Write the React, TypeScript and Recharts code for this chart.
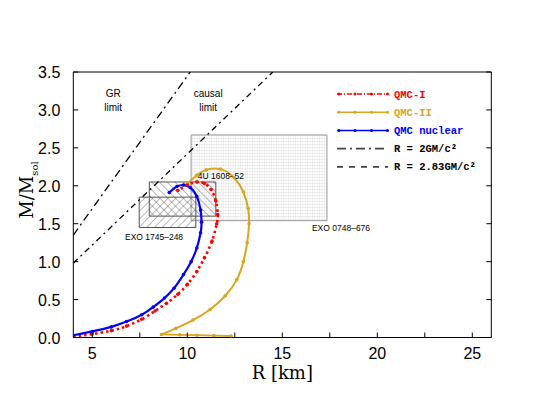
import React from "react";
import { LineChart, Line, XAxis, YAxis, ReferenceArea, ReferenceDot } from "recharts";

// mass-radius curves (R in km, M in solar masses)
const qmc1R = [4.0, 5.0, 6.0, 6.8, 7.6, 8.3, 8.9, 9.5, 10.0, 10.5, 10.9, 11.3, 11.55, 11.6, 11.5, 11.25, 10.9, 10.5, 10.0, 9.5];
const qmc1M = [0.01, 0.045, 0.09, 0.15, 0.24, 0.35, 0.45, 0.57, 0.7, 0.87, 1.05, 1.27, 1.5, 1.62, 1.8, 1.95, 2.03, 2.05, 2.01, 1.94];

const qmc2R = [12.3, 11.4, 10.5, 9.6, 8.65, 9.4, 10.3, 11.2, 12.0, 12.6, 12.95, 13.15, 13.25, 13.2, 12.95, 12.45, 11.75, 11.0, 10.5, 10.0];
const qmc2M = [0.02, 0.025, 0.03, 0.035, 0.04, 0.12, 0.23, 0.37, 0.55, 0.76, 1.0, 1.25, 1.5, 1.7, 1.92, 2.11, 2.22, 2.21, 2.14, 2.03];

const nucR = [4.0, 5.0, 6.0, 6.8, 7.6, 8.2, 8.8, 9.3, 9.8, 10.2, 10.5, 10.7, 10.75, 10.7, 10.5, 10.15, 9.8, 9.45, 9.05];
const nucM = [0.03, 0.08, 0.14, 0.21, 0.3, 0.4, 0.52, 0.65, 0.83, 1.0, 1.18, 1.38, 1.52, 1.68, 1.86, 1.98, 2.01, 1.99, 1.91];

// limit lines (end points)
const grR = [4.0, 10.15];
const grM = [1.35, 3.5];
const causalR = [4.0, 14.5];
const causalM = [0.98, 3.5];

// observational boxes: [Rmin, Rmax], [Mmin, Mmax]
const exo0748R = [10.2, 17.35];
const exo0748M = [1.54, 2.67];
const u1608R = [8.0, 11.5];
const u1608M = [1.6, 2.05];
const exo1745R = [7.47, 10.45];
const exo1745M = [1.45, 1.85];

const xTicks = [5, 7.5, 10, 12.5, 15, 17.5, 20, 22.5, 25];
const yTicks = [0, 0.25, 0.5, 0.75, 1, 1.25, 1.5, 1.75, 2, 2.25, 2.5, 2.75, 3, 3.25, 3.5];

const zip = (r: number[], m: number[]) => r.map((v, i) => ({ r: v, m: m[i] }));

const RED = "#ff0000";
const GOLD = "#daa520";
const BLUE = "#0000ff";
const tickFont = "Liberation Sans, Arial, sans-serif";

const BottomTick = ({ x, y, payload }: any) => (
  <g>
    <line x1={x} x2={x} y1={y} y2={y - 5} stroke="#000" />
    {payload.value % 5 === 0 && (
      <text x={x} y={y + 21} textAnchor="middle" fontSize={16} fontFamily={tickFont} fill="#000">
        {payload.value}
      </text>
    )}
  </g>
);

const TopTick = ({ x, y }: any) => <line x1={x} x2={x} y1={y} y2={y + 5} stroke="#000" />;

const LeftTick = ({ x, y, payload }: any) => {
  const v = payload.value;
  const major = Math.abs(v * 2 - Math.round(v * 2)) < 1e-6;
  return (
    <g>
      <line x1={x} x2={x + 5} y1={y} y2={y} stroke="#000" />
      {major && (
        <text x={x - 13} y={y + 6} textAnchor="end" fontSize={16} fontFamily={tickFont} fill="#000">
          {v.toFixed(1)}
        </text>
      )}
    </g>
  );
};

const RightTick = ({ x, y }: any) => <line x1={x} x2={x - 5} y1={y} y2={y} stroke="#000" />;

const note = (text: string, anchor: string, size: number) => (p: any) => (
  <text x={p.cx} y={p.cy} textAnchor={anchor} fontSize={size} fontFamily={tickFont} fill="#000">
    {text}
  </text>
);

const legendRows = [
  { name: "QMC-I", color: RED, dash: "5 2 1 2", dots: true },
  { name: "QMC-II", color: GOLD, dash: undefined, dots: true },
  { name: "QMC nuclear", color: BLUE, dash: undefined, dots: true },
  { name: "R = 2GM/c²", color: "#000", dash: "9 4 2 4", dots: false },
  { name: "R = 2.83GM/c²", color: "#000", dash: "6 6", dots: false },
];

const LegendBox = () => (
  <svg width={200} height={100} style={{ position: "absolute", left: 330, top: 84 }}>
    {legendRows.map((row, i) => {
      const y = 10 + i * 18.2;
      return (
        <g key={row.name}>
          <line x1={7} x2={58} y1={y} y2={y} stroke={row.dots ? row.color : "#444"} strokeWidth={row.dots ? 1.5 : 1.8} strokeDasharray={row.dash} />
          {row.dots &&
            [9, 25, 41.5, 57.5].map((cx) => <circle key={cx} cx={cx} cy={y} r={1.5} fill={row.color} />)}
          <text x={64} y={y + 3.5} fontSize={10.5} fontWeight="bold" fontFamily="Liberation Mono, DejaVu Sans Mono, monospace" fill={row.color}>
            {row.name}
          </text>
        </g>
      );
    })}
  </svg>
);

const dotStyle = (c: string) => ({ r: 1.8, fill: c, stroke: c, strokeWidth: 0 });

const App = () => {
  return (
    <div style={{ position: "absolute", left: 0, top: 0, width: 538, height: 416, background: "#fff" }}>
      <LineChart width={538} height={416} margin={{ top: 70, right: 44.7, bottom: 28.5, left: 0 }}>
        <defs>
          <pattern id="fineGrid" width="2.4" height="3" patternUnits="userSpaceOnUse">
            <path d="M0 0 V3 M0 0 H2.4" stroke="#d0d0d0" strokeWidth="0.6" fill="none" />
          </pattern>
          <pattern id="hatchBack" width="5.5" height="5.5" patternUnits="userSpaceOnUse" patternTransform="rotate(-45)">
            <line x1="0" y1="0" x2="0" y2="5.5" stroke="#555" strokeWidth="0.8" />
          </pattern>
          <pattern id="hatchFwd" width="5.5" height="5.5" patternUnits="userSpaceOnUse" patternTransform="rotate(45)">
            <line x1="0" y1="0" x2="0" y2="5.5" stroke="#555" strokeWidth="0.8" />
          </pattern>
        </defs>

        <XAxis
          xAxisId="b"
          type="number"
          dataKey="r"
          domain={[4, 26]}
          ticks={xTicks}
          allowDataOverflow
          height={50}
          tickSize={0}
          tickMargin={0}
          tickLine={false}
          axisLine={{ stroke: "#000" }}
          tick={<BottomTick />}
          label={{ value: "R  [km]", position: "insideBottom", offset: 9, fontSize: 18, fontFamily: "DejaVu Serif, serif", fill: "#000" }}
        />
        <XAxis
          xAxisId="t"
          orientation="top"
          type="number"
          domain={[4, 26]}
          ticks={xTicks}
          allowDataOverflow
          height={2}
          tickSize={0}
          tickMargin={0}
          tickLine={false}
          axisLine={{ stroke: "#000" }}
          tick={<TopTick />}
        />
        <YAxis
          yAxisId="l"
          type="number"
          dataKey="m"
          domain={[0, 3.5]}
          ticks={yTicks}
          allowDataOverflow
          width={73.3}
          tickSize={0}
          tickMargin={0}
          tickLine={false}
          axisLine={{ stroke: "#000" }}
          tick={<LeftTick />}
          label={{
            content: () => (
              <text transform="translate(33,190) rotate(-90)" textAnchor="middle" fontSize={18} fontFamily="DejaVu Serif, serif" fill="#000">
                M/M
                <tspan fontSize={10} dy={5}>sol</tspan>
              </text>
            ),
          }}
        />
        <YAxis
          yAxisId="r"
          orientation="right"
          type="number"
          domain={[0, 3.5]}
          ticks={yTicks}
          allowDataOverflow
          width={2}
          tickSize={0}
          tickMargin={0}
          tickLine={false}
          axisLine={{ stroke: "#000" }}
          tick={<RightTick />}
        />

        <ReferenceArea xAxisId="b" yAxisId="l" x1={exo0748R[0]} x2={exo0748R[1]} y1={exo0748M[0]} y2={exo0748M[1]} fill="url(#fineGrid)" fillOpacity={1} stroke="#999" strokeWidth={1} />
        <ReferenceArea xAxisId="b" yAxisId="l" x1={u1608R[0]} x2={u1608R[1]} y1={u1608M[0]} y2={u1608M[1]} fill="url(#hatchBack)" fillOpacity={1} stroke="#555" strokeWidth={1} />
        <ReferenceArea xAxisId="b" yAxisId="l" x1={exo1745R[0]} x2={exo1745R[1]} y1={exo1745M[0]} y2={exo1745M[1]} fill="url(#hatchFwd)" fillOpacity={1} stroke="#555" strokeWidth={1} />

        <ReferenceDot xAxisId="b" yAxisId="l" x={6.1} y={3.17} r={0} shape={note("GR", "middle", 10)} />
        <ReferenceDot xAxisId="b" yAxisId="l" x={6.1} y={2.98} r={0} shape={note("limit", "middle", 10)} />
        <ReferenceDot xAxisId="b" yAxisId="l" x={11.1} y={3.17} r={0} shape={note("causal", "middle", 10)} />
        <ReferenceDot xAxisId="b" yAxisId="l" x={11.1} y={2.98} r={0} shape={note("limit", "middle", 10)} />
        <ReferenceDot xAxisId="b" yAxisId="l" x={10.55} y={2.09} r={0} shape={note("4U 1608\u201352", "start", 8.5)} />
        <ReferenceDot xAxisId="b" yAxisId="l" x={6.72} y={1.29} r={0} shape={note("EXO 1745\u2013248", "start", 8.5)} />
        <ReferenceDot xAxisId="b" yAxisId="l" x={16.56} y={1.4} r={0} shape={note("EXO 0748\u2013676", "start", 8.5)} />

        <Line xAxisId="b" yAxisId="l" data={zip(grR, grM)} dataKey="m" type="linear" stroke="#000" strokeWidth={1.3} strokeDasharray="8 4 2 4" dot={false} isAnimationActive={false} />
        <Line xAxisId="b" yAxisId="l" data={zip(causalR, causalM)} dataKey="m" type="linear" stroke="#000" strokeWidth={1.3} strokeDasharray="6 4 2 4" dot={false} isAnimationActive={false} />

        {/* QMC-II: flat low-mass tail, then the main branch */}
        <Line xAxisId="b" yAxisId="l" data={zip(qmc2R.slice(0, 5), qmc2M.slice(0, 5))} dataKey="m" type="linear" stroke={GOLD} strokeWidth={1.8} dot={dotStyle(GOLD)} isAnimationActive={false} />
        <Line xAxisId="b" yAxisId="l" data={zip(qmc2R.slice(4), qmc2M.slice(4))} dataKey="m" type="natural" stroke={GOLD} strokeWidth={2} dot={dotStyle(GOLD)} isAnimationActive={false} />
        <Line xAxisId="b" yAxisId="l" data={zip(qmc1R, qmc1M)} dataKey="m" type="natural" stroke={RED} strokeWidth={2.6} strokeDasharray="2.5 3" dot={dotStyle(RED)} isAnimationActive={false} />
        <Line xAxisId="b" yAxisId="l" data={zip(nucR, nucM)} dataKey="m" type="natural" stroke={BLUE} strokeWidth={2.2} dot={dotStyle(BLUE)} isAnimationActive={false} />
      </LineChart>
      <LegendBox />
    </div>
  );
};

export default App;
